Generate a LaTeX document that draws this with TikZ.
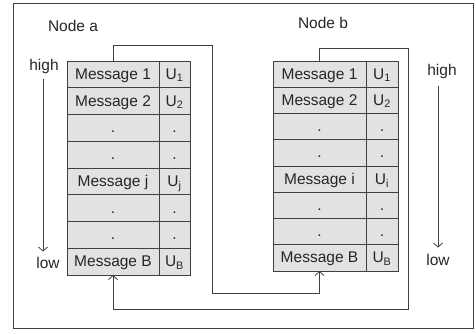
\documentclass[tikz,border=0pt]{standalone}
\usepackage{fontspec}
\setmainfont{Liberation Sans}
\usetikzlibrary{positioning, arrows.meta}
\definecolor{linegray}{HTML}{404040}
\definecolor{cellgray}{HTML}{E2E2E2}
\tikzstyle{msgcell} = [rectangle, minimum width=92pt, minimum height=26.75pt, inner sep=0pt, outer sep=0pt, text height=11pt, text depth=1pt, text centered, draw=linegray, fill=cellgray]
\tikzstyle{ucell} = [msgcell, minimum width=31pt]
\tikzstyle{msgcellb} = [msgcell, minimum width=93pt, minimum height=26.25pt]
\tikzstyle{ucellb} = [msgcellb, minimum width=32pt]
\tikzstyle{lbl} = [inner sep=0pt, text height=11pt, text depth=3pt]
\tikzstyle{arrow} = [-{Straight Barb[length=4pt,width=9pt]}, draw=linegray]

\begin{document}
\begin{tikzpicture}[x=1pt, y=1pt, line width=0.8pt, font=\fontsize{15.5}{18}\selectfont, text=black!85]
		\useasboundingbox (0,0) rectangle (476,334);
		\draw [linegray] (13,6) rectangle (473,331);

		% node a queue
		\node (a1) [msgcell, anchor=north west] at (67,273) {Message 1};
		\node (ua1) [ucell, right=0pt of a1] {U\textsubscript{1}};
		\node (a2) [msgcell, below=0pt of a1] {Message 2};
		\node (ua2) [ucell, right=0pt of a2] {U\textsubscript{2}};
		\node (a3) [msgcell, below=0pt of a2] {.};
		\node (ua3) [ucell, right=0pt of a3] {.};
		\node (a4) [msgcell, below=0pt of a3] {.};
		\node (ua4) [ucell, right=0pt of a4] {.};
		\node (a5) [msgcell, below=0pt of a4] {Message j};
		\node (ua5) [ucell, right=0pt of a5] {U\textsubscript{j}};
		\node (a6) [msgcell, below=0pt of a5] {.};
		\node (ua6) [ucell, right=0pt of a6] {.};
		\node (a7) [msgcell, below=0pt of a6] {.};
		\node (ua7) [ucell, right=0pt of a7] {.};
		\node (a8) [msgcell, below=0pt of a7] {Message B};
		\node (ua8) [ucell, right=0pt of a8] {U\textsubscript{B}};

		% node b queue
		\node (b1) [msgcellb, anchor=north west] at (273,273) {Message 1};
		\node (ub1) [ucellb, right=0pt of b1] {U\textsubscript{1}};
		\node (b2) [msgcellb, below=0pt of b1] {Message 2};
		\node (ub2) [ucellb, right=0pt of b2] {U\textsubscript{2}};
		\node (b3) [msgcellb, below=0pt of b2] {.};
		\node (ub3) [ucellb, right=0pt of b3] {.};
		\node (b4) [msgcellb, below=0pt of b3] {.};
		\node (ub4) [ucellb, right=0pt of b4] {.};
		\node (b5) [msgcellb, below=0pt of b4] {Message i};
		\node (ub5) [ucellb, right=0pt of b5] {U\textsubscript{i}};
		\node (b6) [msgcellb, below=0pt of b5] {.};
		\node (ub6) [ucellb, right=0pt of b6] {.};
		\node (b7) [msgcellb, below=0pt of b6] {.};
		\node (ub7) [ucellb, right=0pt of b7] {.};
		\node (b8) [msgcellb, below=0pt of b7] {Message B};
		\node (ub8) [ucellb, right=0pt of b8] {U\textsubscript{B}};

		% labels
		\node (namea) [lbl] at (73,306) {Node a};
		\node (nameb) [lbl] at (323,309) {Node b};
		\node (higha) [lbl] at (44,267) {high};
		\node (lowa) [lbl] at (48,69) {low};
		\node (highb) [lbl] at (442,262) {high};
		\node (lowb) [lbl] at (438,72) {low};

		\draw [arrow, shorten >=6pt]([xshift=-1pt, yshift=-5pt]higha.south) -- ([xshift=-1pt]higha.south |- lowa.north);
		\draw [arrow, shorten >=7pt]([xshift=-4pt, yshift=-7pt]highb.south) -- ([xshift=-4pt]highb.south |- lowb.north);

		\draw [arrow](a1.north) -- ++(0,16) -| (212,41) -| (b8.south);
		\draw [arrow](b1.north) -- ++(0,13) -| (408,25) -| (a8.south);
	\end{tikzpicture}
\end{document}
